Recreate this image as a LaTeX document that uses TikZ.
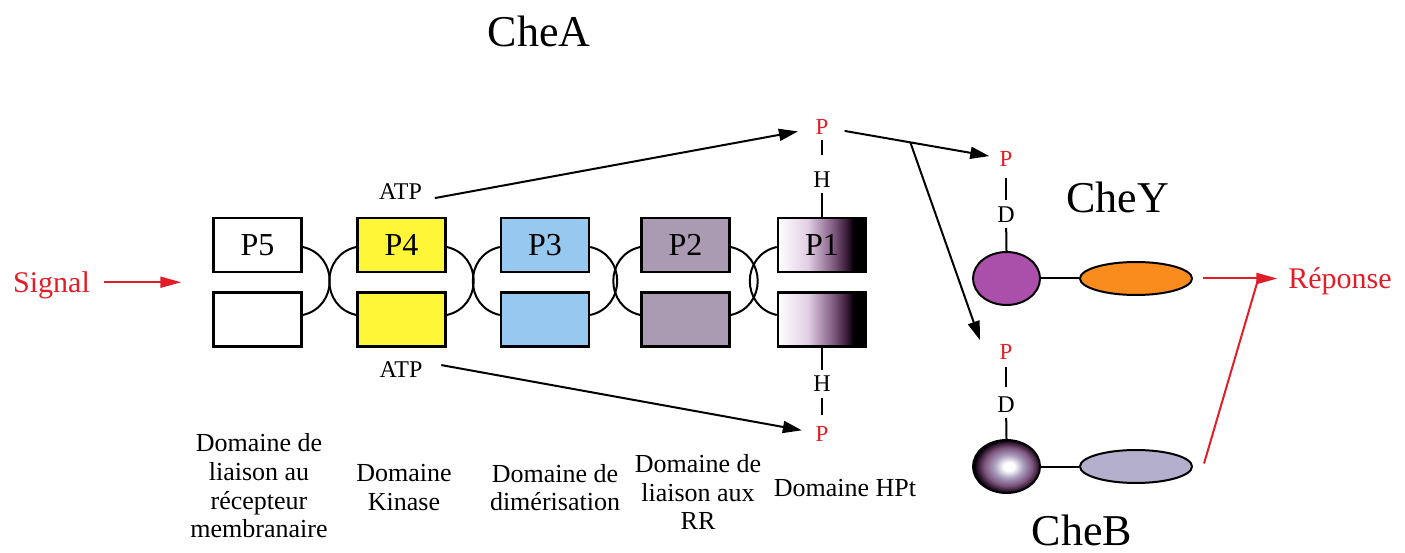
\documentclass[tikz,border=0pt]{standalone}
\usepackage{fontspec}
\setmainfont{Liberation Serif}
\usepackage{tikz}
\usetikzlibrary{positioning, calc, arrows.meta, shapes.geometric}

\definecolor{sigred}{RGB}{225,30,40}
\definecolor{kinyellow}{RGB}{255,246,56}
\definecolor{dimblue}{RGB}{150,200,240}
\definecolor{rrmauve}{RGB}{170,155,178}
\definecolor{cheypurple}{RGB}{170,80,170}
\definecolor{cheyorange}{RGB}{250,140,30}
\definecolor{chebgrey}{RGB}{180,175,205}
\definecolor{hptlight}{RGB}{225,205,228}
\definecolor{hptmid}{RGB}{125,85,125}
\definecolor{hptdark}{RGB}{45,20,45}
\pgfdeclarehorizontalshading{hptshade}{100bp}{color(0bp)=(white); color(25bp)=(white); color(42bp)=(hptlight); color(57bp)=(hptmid); color(65bp)=(hptdark); color(68bp)=(black); color(100bp)=(black)}
\pgfdeclareradialshading{chebball}{\pgfpoint{2bp}{0bp}}{color(0bp)=(white); color(4bp)=(white); color(11bp)=(chebgrey!80!hptmid); color(18bp)=(hptmid); color(23bp)=(hptdark); color(25bp)=(black); color(50bp)=(black)}

\begin{document}
\begin{tikzpicture}[x=1pt, y=-1pt, line width=2pt,
    dom/.style={draw, line width=2.4pt, minimum width=88pt, minimum height=54pt, inner sep=0pt, font=\fontsize{32}{36}\selectfont},
    lbl/.style={align=center, inner sep=0pt, font=\fontsize{26}{28.6}\selectfont},
    title/.style={inner sep=0pt, anchor=base, font=\fontsize{44}{50}\selectfont},
    atom/.style={inner sep=0pt, font=\fontsize{24}{26}\selectfont},
    phos/.style={atom, text=sigred, font=\fontsize{23}{26}\selectfont},
    redtext/.style={inner sep=0pt, anchor=base, text=sigred, font=\fontsize{30}{34}\selectfont},
    arr/.style={-{Triangle[length=19pt, width=12pt]}},
    redarr/.style={draw=sigred, -{Triangle[length=21pt, width=11pt]}},
    prot/.style={ellipse, draw, line width=2pt, inner sep=0pt, minimum width=67pt, minimum height=53pt},
    tail/.style={ellipse, draw, line width=2pt, inner sep=0pt, minimum width=112pt, minimum height=33pt}
  ]
  \useasboundingbox (0,0) rectangle (1405,553);

  % ==========================================
  % CheA dimer: domains P5 ... P1
  % ==========================================
  \node[title] (cheA) at (539,47) {CheA};

  \foreach \nm/\txt/\x/\col in {p5/P5/257.5/white, p4/P4/401.5/kinyellow, p3/P3/545/dimblue, p2/P2/685.5/rrmauve}{
    \node[dom, fill=\col] (\nm) at (\x,245) {\txt};
    \node[dom, fill=\col] (\nm b) at (\x,319.5) {};
  }
  \node[dom, shading=hptshade] (p1) at (822,245) {P1};
  \node[dom, shading=hptshade] (p1b) at (822,319.5) {};

  % Linkers between the domains
  \foreach \nm in {p5,p4,p3,p2}
    \draw ([yshift=-2pt]\nm.east) .. controls +(36,8) and +(36,-8) .. ([yshift=4.5pt]\nm b.east);
  \foreach \nm in {p4,p3,p2,p1}
    \draw ([yshift=-2pt]\nm.west) .. controls +(-36,8) and +(-36,-8) .. ([yshift=4.5pt]\nm b.west);

  % ==========================================
  % Signal input
  % ==========================================
  \node[redtext] (sig) at (51.5,292) {Signal};
  \coordinate (inlet) at ($(p5.south west)!0.5!(p5b.north west)$);
  \draw[redarr, shorten <=13pt, shorten >=31pt] (sig.east |- inlet) -- (inlet);

  % ==========================================
  % Phospho-histidine on P1
  % ==========================================
  \node[atom] (hT) at (822,180) {H};
  \node[phos] (pA) at (822,127) {P};
  \node[atom] (hB) at (822,383.5) {H};
  \node[phos] (pA2) at (822,434) {P};
  \draw[shorten >=13pt] (p1.north) -- (hT.center);
  \draw[shorten <=25pt, shorten >=13pt] (hT.center) -- (pA.center);
  \draw[shorten >=13.5pt] (p1b.south) -- (hB.center);
  \draw[shorten <=14.5pt, shorten >=19pt] (hB.center) -- (pA2.center);

  % ATP from the kinase domain
  \node[atom, anchor=base] (atpT) at (400.5,200) {ATP};
  \node[atom, anchor=base] (atpB) at (401,377) {ATP};
  \draw[arr, shorten >=24.5pt] ([shift={(12,6)}]atpT.east) -- (pA.center);
  \draw[arr, shorten >=20.5pt] ([shift={(18,-4)}]atpB.east) -- (pA2.center);

  % ==========================================
  % CheY
  % ==========================================
  \node[title] (cheYl) at (1117.5,213) {CheY};
  \node[phos] (pY) at (1006,159) {P};
  \node[atom] (dY) at (1006,215) {D};
  \node[prot, fill=cheypurple] (cheY) at (1006.5,278.5) {};
  \node[tail, fill=cheyorange] (cheYt) at (1136,278.5) {};
  \draw[shorten <=19pt, shorten >=15pt] (pY.center) -- (dY.center);
  \draw[shorten <=13pt] (dY.center) -- (cheY.north);
  \draw (cheY.east) -- (cheYt.west);

  % ==========================================
  % CheB
  % ==========================================
  \node[title] (cheBl) at (1082,545) {CheB};
  \node[phos] (pB) at (1006,351.5) {P};
  \node[atom] (dB) at (1006,405) {D};
  \node[prot, shading=chebball] (cheB) at (1006.5,466.5) {};
  \node[tail, fill=chebgrey] (cheBt) at (1136,466.5) {};
  \draw[shorten <=15pt, shorten >=18pt] (pB.center) -- (dB.center);
  \draw[shorten <=13pt] (dB.center) -- (cheB.north);
  \draw (cheB.east) -- (cheBt.west);

  % Phosphotransfer P1 -> CheY / CheB
  \draw[arr, shorten <=23pt, shorten >=17pt] (pA.center) -- (pY.center);
  \coordinate (fork) at ($(pA.center)!0.48!(pY.center)$);
  \draw[arr, shorten >=12pt] (fork) -- ([xshift=-22pt]pB.center);

  % ==========================================
  % Response
  % ==========================================
  \node[redtext] (rep) at (1340,288) {Réponse};
  \coordinate (tip) at (cheYt.east -| rep.west);
  \draw[redarr, shorten <=10pt, shorten >=10pt] (cheYt.east) -- (tip);
  \draw[draw=sigred] ([shift={(11,-3)}]cheBt.east) -- ([xshift=-29pt]tip);

  % ==========================================
  % Domain names
  % ==========================================
  \node[lbl] (dom5) at (259,486) {Domaine de\\liaison au\\récepteur\\membranaire};
  \node[lbl] (dom4) at (404,487.5) {Domaine\\Kinase};
  \node[lbl] (dom3) at (555,487.5) {Domaine de\\dimérisation};
  \node[lbl] (dom2) at (698,492) {Domaine de\\liaison aux\\RR};
  \node[lbl] (dom1) at (845,488) {Domaine HPt};
\end{tikzpicture}
\end{document}
